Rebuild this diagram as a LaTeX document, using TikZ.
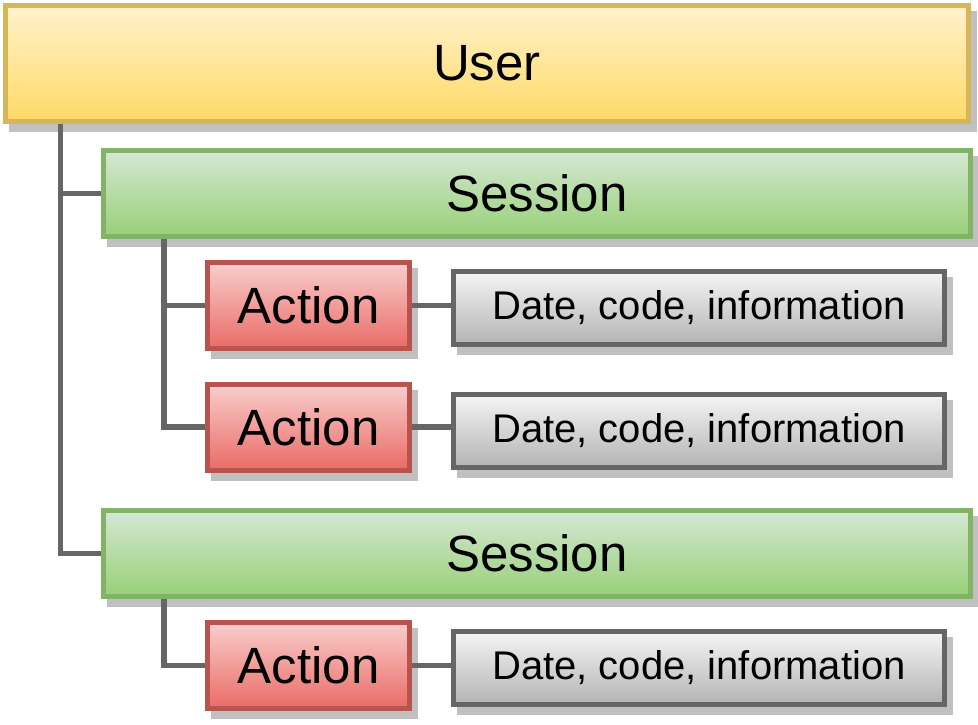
\documentclass[tikz,border=0pt]{standalone}
\usepackage{fontspec}
\setmainfont{Liberation Sans}
\usetikzlibrary{shadows}
\definecolor{usrtop}{HTML}{FFF2CC}
\definecolor{usrbot}{HTML}{FFD966}
\definecolor{usrline}{HTML}{D6B656}
\definecolor{sestop}{HTML}{D5E8D4}
\definecolor{sesbot}{HTML}{97D077}
\definecolor{sesline}{HTML}{82B366}
\definecolor{acttop}{HTML}{F8CECC}
\definecolor{actbot}{HTML}{EA6B66}
\definecolor{actline}{HTML}{B85450}
\definecolor{inftop}{HTML}{F5F5F5}
\definecolor{infbot}{HTML}{B3B3B3}
\definecolor{infline}{HTML}{666666}
\definecolor{shd}{HTML}{C0C0C0}
\tikzset{ box/.style = { rectangle
                       , draw
                       , line width   = 5pt
                       , inner sep    = 0pt
                       , drop shadow  = {shadow xshift=6pt, shadow yshift=-8pt,
                                         fill=shd, draw=shd, line width=5pt, opacity=1}
                       },
          usr/.style = { box
                       , draw         = usrline
                       , top color    = usrtop
                       , bottom color = usrbot
                       , minimum width  = 963pt
                       , minimum height = 116pt
                       , font = \fontsize{51}{60}\selectfont
                       },
          ses/.style = { box
                       , draw         = sesline
                       , top color    = sestop
                       , bottom color = sesbot
                       , minimum width  = 867pt
                       , minimum height = 86pt
                       , font = \fontsize{51}{60}\selectfont
                       },
          act/.style = { box
                       , draw         = actline
                       , top color    = acttop
                       , bottom color = actbot
                       , minimum width  = 202pt
                       , minimum height = 86pt
                       , font = \fontsize{51}{60}\selectfont
                       },
          inf/.style = { box
                       , draw         = infline
                       , top color    = inftop
                       , bottom color = infbot
                       , minimum width  = 491pt
                       , minimum height = 73pt
                       , font = \fontsize{40}{48}\selectfont
                       },
          con/.style = { draw = infline
                       , line width = 5.5pt
                       }
        }
\begin{document}
\begin{tikzpicture}[x=1pt, y=-1pt]
            \useasboundingbox (0,0) rectangle (978,724);
            \node[usr] (usr) at (487,63.5) {User};
            % first session
            \node[ses] (ses1) at (537,193.5) {Session};
            \node[act] (act1) at (308.5,305.5) {Action};
            \node[inf] (inf1) at (699,308) {Date, code, information};
            \node[act] (act2) at (308.5,427) {Action};
            \node[inf] (inf2) at (699,431) {Date, code, information};
            % second session
            \node[ses] (ses2) at (537,553.5) {Session};
            \node[act] (act3) at (308.5,665.5) {Action};
            \node[inf] (inf3) at (699,668) {Date, code, information};
            \draw[con] ([xshift=57.5pt]usr.south west) |- (ses1.west);
            \draw[con] ([xshift=57.5pt]usr.south west) |- (ses2.west);
            \draw[con] ([xshift=63pt]ses1.south west) |- (act1.west);
            \draw[con] ([xshift=63pt]ses1.south west) |- (act2.west);
            \draw[con] ([xshift=63pt]ses2.south west) |- (act3.west);
            \draw[con] (act1.east) -- (act1.east -| inf1.west);
            \draw[con] (act2.east) -- (act2.east -| inf2.west);
            \draw[con] (act3.east) -- (act3.east -| inf3.west);
\end{tikzpicture}
\end{document}
